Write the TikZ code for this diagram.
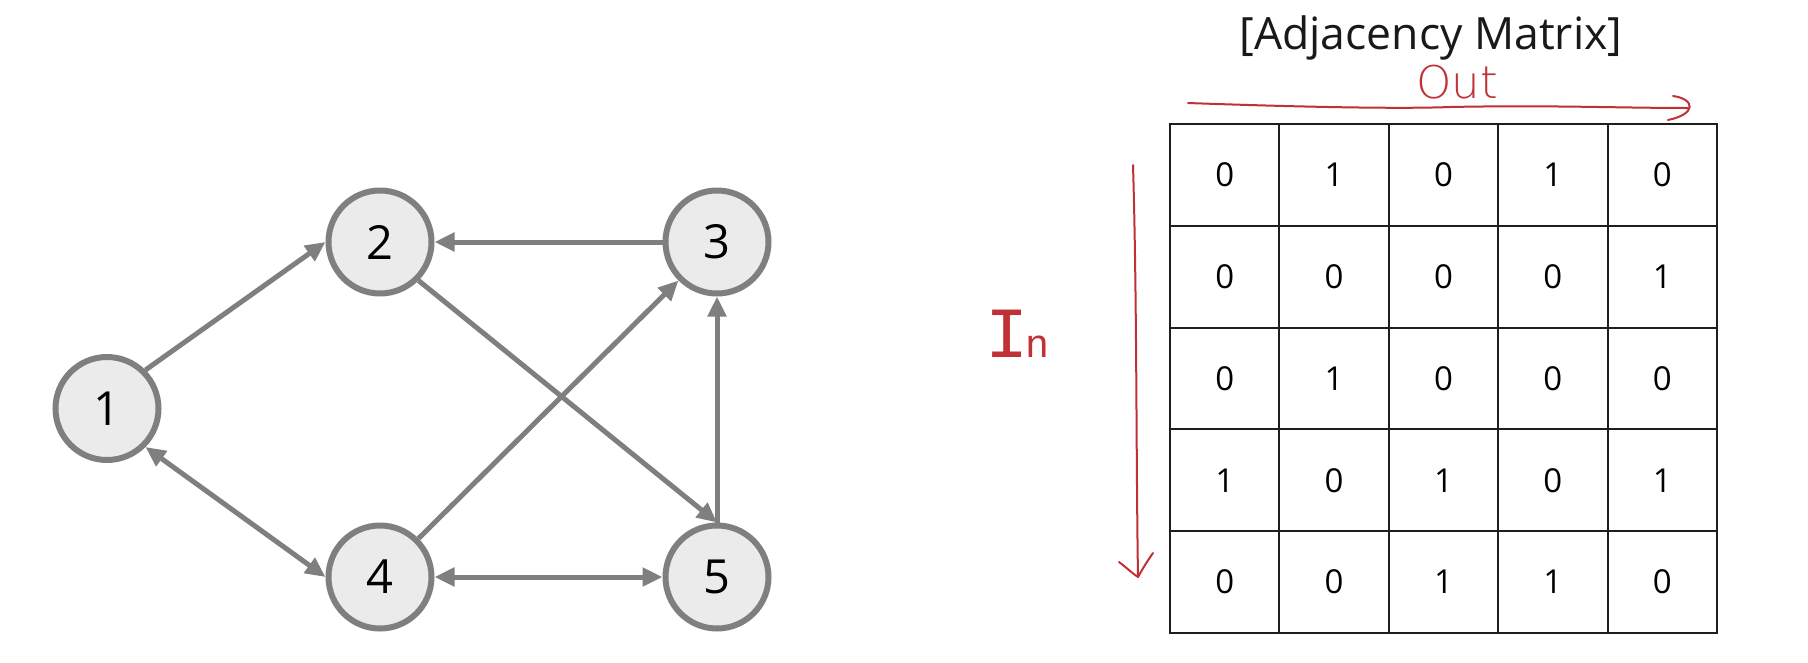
\documentclass[tikz,border=0pt]{standalone}
\usepackage{fontspec}
\setmainfont{Open Sans}
\newfontfamily\handfont{DejaVuSans-ExtraLight.ttf}
\newfontfamily\handmono{Liberation Mono}
\usetikzlibrary{arrows.meta}
\definecolor{edgegray}{RGB}{127,127,127}
\definecolor{nodefill}{RGB}{235,235,235}
\definecolor{pen}{RGB}{192,48,52}
\definecolor{gridline}{RGB}{30,30,30}
\begin{document}
\begin{tikzpicture}[x=1pt,y=-1pt,
  vertex/.style={circle,draw=edgegray,fill=nodefill,line width=6pt,minimum size=103pt,inner sep=0pt,font=\fontsize{47}{47}\selectfont},
  edge/.style={draw=edgegray,line width=5pt,-{Triangle[length=20pt,width=18pt]}},
  biedge/.style={draw=edgegray,line width=5pt,{Triangle[length=20pt,width=18pt]}-{Triangle[length=20pt,width=18pt]}},
  cell/.style={draw=gridline,line width=2pt,minimum width=109.4pt,minimum height=101.8pt,inner sep=0pt,outer sep=0pt,font=\fontsize{33}{33}\selectfont},
  penline/.style={draw=pen,line width=2pt,line cap=round,line join=round}
]
\useasboundingbox (0,0) rectangle (1808,662);

% graph
\node[vertex] (n1) at (107,408.5) {1};
\node[vertex] (n2) at (380,242) {2};
\node[vertex] (n3) at (717,242) {3};
\node[vertex] (n4) at (380,577) {4};
\node[vertex] (n5) at (717,577) {5};

\draw[edge] (n1.north east) -- (n2.west);
\draw[edge] (n3.west) -- (n2.east);
\draw[edge] (n2.south east) -- (n5.north);
\draw[edge] (n4.north east) -- (n3.south west);
\draw[edge] (n5.north) -- (n3.south);
\draw[biedge] (n1.south east) -- (n4.west);
\draw[biedge] (n4.east) -- (n5.west);

% title
\node[anchor=base,inner sep=0pt,font=\fontsize{44.5}{44.5}\selectfont,text=black!90] (title) at (1431,49) {[Adjacency Matrix]};

% matrix
\foreach \row [count=\r] in {{0,1,0,1,0},{0,0,0,0,1},{0,1,0,0,0},{1,0,1,0,1},{0,0,1,1,0}} {
  \foreach \v [count=\c] in \row {
    \node[cell] (m-\r-\c) at ({1170+54.7+109.4*(\c-1)},{124+50.9+101.8*(\r-1)}) {\v};
  }
}

% handwritten annotations
\node[anchor=base west,inner sep=0pt,text=pen,font=\handfont\fontsize{45}{45}\selectfont] (outlabel) at (1416,98) {Out};
\coordinate (outS) at (1188,103);
\coordinate (outE) at (1689,108);
\draw[penline] (outS) .. controls (1300,107) and (1400,109) .. (1450,107) .. controls (1550,105) and (1620,108) .. (outE);
\draw[penline] (1673,96) .. controls (1695,99) and (1697,114) .. (1668,120);

\node[anchor=base west,inner sep=0pt,text=pen] (inlabel) at (985.5,357) {\handmono\fontsize{72}{72}\selectfont I\kern-3pt\fontsize{40}{40}\selectfont n};
\coordinate (inS) at (1133,165);
\coordinate (inE) at (1138,577);
\draw[penline] (inS) .. controls (1137,300) and (1136,450) .. (inE);
\draw[penline] (1119,562) .. controls (1127,568) and (1133,574) .. (inE) .. controls (1143,568) and (1148,560) .. (1153,553);
\end{tikzpicture}
\end{document}
